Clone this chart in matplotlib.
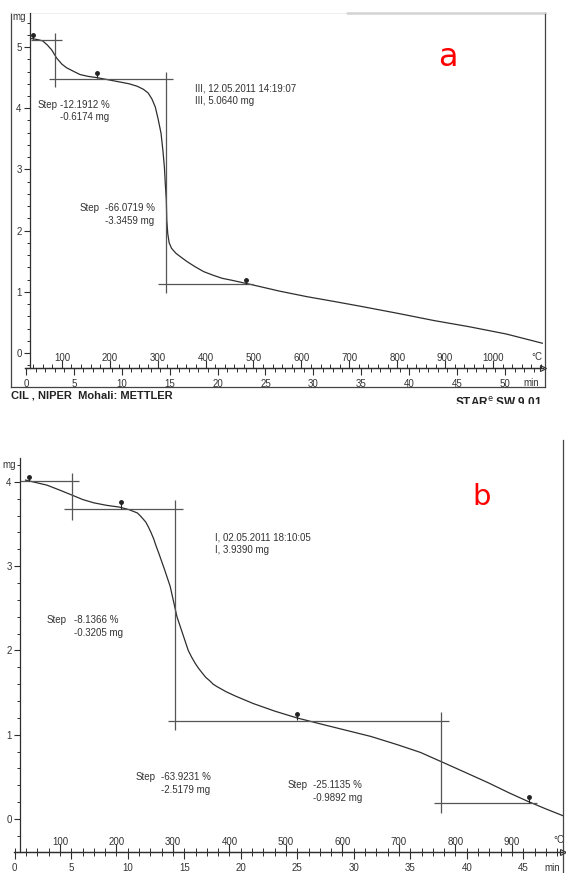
import matplotlib
matplotlib.use("Agg")
import matplotlib.pyplot as plt
from matplotlib.ticker import MultipleLocator
from matplotlib.lines import Line2D
from matplotlib.patches import Rectangle

plt.rcParams['font.family'] = ['Liberation Sans', 'DejaVu Sans']

W, H = 566, 873
FS = 7.0

# ---- panel a : temperature (degC) vs mass (mg)
temp_a = [35, 50, 60, 70, 79, 89, 100, 110, 125, 138, 155, 173, 200, 220, 240,
          257, 270, 280, 288, 295, 301, 307, 311, 314, 316, 318, 319, 321, 324,
          329, 338, 348, 362, 378, 396, 416, 435, 454, 477, 500, 555, 612, 670,
          726, 800, 877, 950, 1028, 1103]
mass_a = [5.14, 5.12, 5.10, 5.03, 4.95, 4.82, 4.72, 4.66, 4.60, 4.55, 4.52, 4.50,
          4.46, 4.43, 4.40, 4.36, 4.31, 4.25, 4.15, 4.02, 3.82, 3.59, 3.30, 3.04,
          2.75, 2.50, 2.17, 1.95, 1.80, 1.71, 1.63, 1.57, 1.49, 1.41, 1.33, 1.27,
          1.22, 1.19, 1.15, 1.11, 1.01, 0.92, 0.84, 0.76, 0.65, 0.53, 0.43, 0.31,
          0.16]
time_ticks_a = [0, 5, 10, 15, 20, 25, 30, 35, 40, 45, 50]
hline_a_y = [5.11, 4.48, 1.13]
hline_a_x0 = [35, 73, 300]
hline_a_x1 = [100, 331, 499]
vline_a_x = [86, 316.5]
vline_a_y0 = [4.35, 0.98]
vline_a_y1 = [5.23, 4.59]
mark_a_x = [40, 173, 484]
mark_a_top = [5.20, 4.57, 1.20]
mark_a_base = [5.13, 4.49, 1.12]
notes_a = [(50, 4.05, "Step"), (96, 4.05, "-12.1912 %"), (96, 3.86, "-0.6174 mg"),
           (378, 4.33, "III, 12.05.2011 14:19:07"), (378, 4.12, "III, 5.0640 mg"),
           (137, 2.37, "Step"), (190, 2.37, "-66.0719 %"), (190, 2.16, "-3.3459 mg")]

# ---- panel b
temp_b = [39, 77, 100, 122, 140, 160, 183, 205, 222, 237, 243, 247, 252, 256, 261,
          266, 270, 275, 285, 295, 301, 307, 312, 317, 322, 327, 333, 339, 345,
          352, 358, 365, 371, 378, 394, 410, 442, 480, 519, 560, 602, 650, 698,
          738, 775, 815, 858, 895, 928, 960, 990]
mass_b = [4.02, 3.96, 3.90, 3.84, 3.79, 3.75, 3.72, 3.70, 3.67, 3.63, 3.59, 3.56,
          3.52, 3.47, 3.40, 3.32, 3.24, 3.15, 2.96, 2.76, 2.58, 2.40, 2.30, 2.20,
          2.10, 2.00, 1.92, 1.85, 1.79, 1.73, 1.68, 1.64, 1.60, 1.57, 1.51, 1.46,
          1.37, 1.28, 1.20, 1.13, 1.06, 0.98, 0.88, 0.79, 0.68, 0.56, 0.43, 0.31,
          0.21, 0.12, 0.04]
time_ticks_b = [0, 5, 10, 15, 20, 25, 30, 35, 40, 45]
hline_b_y = [4.01, 3.68, 1.16, 0.19]
hline_b_x0 = [29, 107, 291, 762]
hline_b_x1 = [134, 317, 788, 944]
vline_b_x = [122, 303, 774]
vline_b_y0 = [3.55, 1.06, 0.07]
vline_b_y1 = [4.10, 3.78, 1.27]
mark_b_x = [45, 208, 520, 930]
mark_b_top = [4.06, 3.76, 1.25, 0.26]
mark_b_base = [4.01, 3.68, 1.17, 0.19]
notes_b = [(374, 3.34, "I, 02.05.2011 18:10:05"), (374, 3.19, "I, 3.9390 mg"),
           (77, 2.36, "Step"), (125, 2.36, "-8.1366 %"), (125, 2.21, "-0.3205 mg"),
           (234, 0.50, "Step"), (279, 0.50, "-63.9231 %"), (279, 0.34, "-2.5179 mg"),
           (503, 0.40, "Step"), (548, 0.40, "-25.1135 %"), (548, 0.25, "-0.9892 mg")]

INK = '#2e2e2e'
TXT = '#333333'


def box(l, t, r, b):
    return [l / W, 1 - b / H, (r - l) / W, (b - t) / H]


def draw_panel(rect, xlim, ylim, y_axis_T, t0, T_ticks, y_ticks, t_ticks,
               temps, masses, hl, vl, marks, notes, degc_pos, min_pos):
    ax = fig.add_axes(rect)
    ax.patch.set_alpha(0)
    ax.set_xlim(*xlim)
    ax.set_ylim(*ylim)
    for s in ['top', 'right']:
        ax.spines[s].set_visible(False)
    ax.spines['left'].set_position(('data', y_axis_T))
    for s in ['left', 'bottom']:
        ax.spines[s].set_color(INK)
        ax.spines[s].set_linewidth(0.9)

    ax.plot(temps, masses, color=INK, lw=0.9)
    ax.hlines(hl[0], hl[1], hl[2], color='#555555', lw=0.9)
    ax.vlines(vl[0], vl[1], vl[2], color='#555555', lw=0.9)
    ax.vlines(marks[0], marks[2], marks[1], color='#222222', lw=0.8)
    ax.plot(marks[0], marks[1], 'o', color='#222222', ms=2.5)
    for x, y, s in notes:
        ax.text(x, y, s, fontsize=FS, color=TXT, va='center', ha='left')

    # temperature scale (ticks up, labels above the ruler)
    ax.set_xticks(T_ticks)
    ax.xaxis.set_minor_locator(MultipleLocator(20))
    ax.tick_params(axis='x', which='major', direction='in', length=6, width=0.8,
                   pad=-11, labelsize=FS, colors=INK, labelcolor=TXT)
    ax.tick_params(axis='x', which='minor', direction='in', length=3, width=0.7,
                   colors=INK)

    ax.set_yticks(y_ticks)
    ax.yaxis.set_minor_locator(MultipleLocator(0.2))
    ax.tick_params(axis='y', which='major', direction='out', length=4, width=0.8,
                   pad=2, labelsize=FS, colors=INK, labelcolor=TXT)
    ax.tick_params(axis='y', which='minor', direction='out', length=2.5, width=0.7,
                   colors=INK)

    # time scale (ticks down, labels below the ruler), 20 K/min
    sec = ax.secondary_xaxis('bottom', functions=(lambda T: (T - t0) / 20.0,
                                                  lambda t: t0 + 20.0 * t))
    sec.spines['bottom'].set_color(INK)
    sec.spines['bottom'].set_linewidth(0.9)
    sec.set_xticks(t_ticks)
    sec.xaxis.set_minor_locator(MultipleLocator(1))
    sec.tick_params(axis='x', which='major', direction='out', length=5, width=0.8,
                    pad=3, labelsize=FS, colors=INK, labelcolor=TXT)
    sec.tick_params(axis='x', which='minor', direction='out', length=3, width=0.7,
                    colors=INK)

    ax.plot([1], [0], marker='>', ms=4, mfc='none', mec=INK, mew=0.8,
            transform=ax.transAxes, clip_on=False)
    ax.text(degc_pos[0], degc_pos[1], u'\u00b0C', transform=ax.transAxes,
            fontsize=FS, color=TXT, ha='center', va='center')
    ax.text(min_pos[0], min_pos[1], 'min', transform=ax.transAxes,
            fontsize=FS, color=TXT, ha='center', va='center')
    return ax


fig = plt.figure(figsize=(W / 100, H / 100), dpi=100)
fig.patch.set_facecolor('white')

# outer frame of panel a
frame = fig.add_axes(box(11, 13, 545, 387))
frame.set_xticks([])
frame.set_yticks([])
frame.patch.set_alpha(0)
for s in ['left', 'bottom', 'right']:
    frame.spines[s].set_color('#444444')
    frame.spines[s].set_linewidth(0.9)
frame.spines['top'].set_color('#ececec')
frame.spines['top'].set_linewidth(0.6)
frame.plot([0.63, 1.0], [1.0, 1.0], color='#555555', lw=1.0,
           transform=frame.transAxes, clip_on=False)

ax_a = draw_panel(box(25, 13, 543, 368), (23.0, 1104.4), (-0.245, 5.556), 33.4, 25,
                  list(range(100, 1001, 100)), list(range(0, 6)), time_ticks_a,
                  temp_a, mass_a,
                  (hline_a_y, hline_a_x0, hline_a_x1),
                  (vline_a_x, vline_a_y0, vline_a_y1),
                  (mark_a_x, mark_a_top, mark_a_base), notes_a,
                  (0.988, 0.031), (0.978, -0.042))

ax_b = draw_panel(box(14, 458, 563, 852), (18.6, 990.3), (-0.391, 4.282), 29.2, 20,
                  list(range(100, 901, 100)), list(range(0, 5)), time_ticks_b,
                  temp_b, mass_b,
                  (hline_b_y, hline_b_x0, hline_b_x1),
                  (vline_b_x, vline_b_y0, vline_b_y1),
                  (mark_b_x, mark_b_top, mark_b_base), notes_b,
                  (0.992, 0.030), (0.98, -0.041))

fig.add_artist(Line2D([563 / W, 563 / W], [0, 1 - 440 / H], color='#444444', lw=0.9,
                      transform=fig.transFigure))

fig.text(19 / W, 1 - 17 / H, 'mg', fontsize=FS, color=TXT, ha='center', va='center')
fig.text(9 / W, 1 - 465 / H, 'mg', fontsize=FS, color=TXT, ha='center', va='center')

fig.text(448 / W, 1 - 57 / H, 'a', fontsize=23, color='#ff0000', ha='center',
         va='center', family='DejaVu Sans')
fig.text(482 / W, 1 - 497 / H, 'b', fontsize=21, color='#ff0000', ha='center',
         va='center', family='DejaVu Sans')

fig.text(11 / W, 1 - 396 / H, 'CIL , NIPER  Mohali: METTLER', fontsize=8,
         fontweight='bold', color='#222222', ha='left', va='center')
fig.text(543 / W, 1 - 403 / H, r'STAR$^\mathrm{e}$ SW 9.01', fontsize=8.5,
         fontweight='bold', color='#222222', ha='right', va='center')
# scan cut-off under the footer
fig.add_artist(Rectangle((0, 1 - 438 / H), 1, (438 - 404) / H, facecolor='white',
                         edgecolor='none', transform=fig.transFigure, zorder=10))

fig.savefig('out.png', dpi=100, facecolor='white')
